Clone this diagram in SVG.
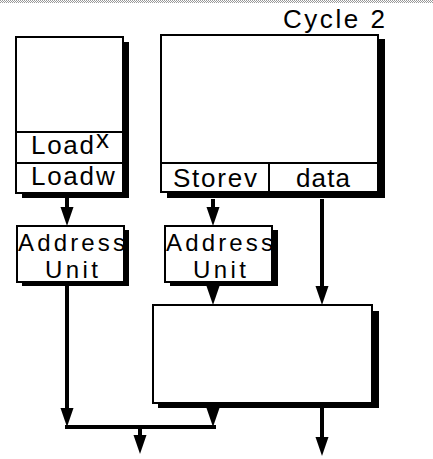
<svg xmlns="http://www.w3.org/2000/svg" width="433" height="459" viewBox="0 0 433 459">
<defs>
<style>
.box{fill:#fff;stroke:#000;stroke-width:2}
.sh{fill:#000}
.t{font-family:"Liberation Sans",Arial,sans-serif;fill:#000;font-size:26px}
.au{font-size:24px}
.c{stroke:#000;stroke-width:4;fill:none}
.ln{stroke:#000;stroke-width:2;fill:none}
</style>
<marker id="ah" markerUnits="userSpaceOnUse" markerWidth="20" markerHeight="14" viewBox="0 0 20 14" refX="9" refY="7" orient="auto">
<path d="M0,0.5 L19,7 L0,13.5 z" fill="#000"/>
</marker>
<pattern id="dots" width="2" height="2" patternUnits="userSpaceOnUse">
<rect width="2" height="2" fill="#fff"/>
<rect width="1" height="1" fill="#999"/>
<rect x="1" y="1" width="1" height="1" fill="#999"/>
</pattern>
</defs>
<rect x="0" y="0" width="433" height="3" fill="url(#dots)"/>
<text class="t" x="283" y="28" textLength="102" lengthAdjust="spacing">Cycle 2</text>

<g id="loadBox">
<rect class="sh" x="22" y="42" width="107" height="156"/>
<rect class="box" x="16" y="37" width="107" height="156"/>
<line class="ln" x1="16" y1="132" x2="123" y2="132"/>
<line class="ln" x1="16" y1="163" x2="123" y2="163"/>
<text class="t" x="31" y="154"><tspan textLength="63" lengthAdjust="spacing">Load</tspan><tspan x="96" y="148">x</tspan></text>
<text class="t" x="31" y="185"><tspan textLength="63" lengthAdjust="spacing">Load</tspan><tspan x="96">w</tspan></text>
</g>

<g id="storeBox">
<rect class="sh" x="167" y="39" width="218" height="159"/>
<rect class="box" x="161" y="35" width="217" height="157"/>
<line class="ln" x1="161" y1="163" x2="378" y2="163"/>
<line class="ln" x1="269" y1="163" x2="269" y2="192"/>
<text class="t" x="173" y="187" textLength="84" lengthAdjust="spacing">Storev</text>
<text class="t" x="296" y="187" textLength="54" lengthAdjust="spacing">data</text>
</g>

<g id="addrUnit1">
<rect class="sh" x="22" y="230" width="107" height="56"/>
<rect class="box" x="17" y="226" width="107" height="56"/>
<text class="t au" x="18" y="251" textLength="107" lengthAdjust="spacing">Address</text>
<text class="t au" x="45" y="278" textLength="53" lengthAdjust="spacing">Unit</text>
</g>

<g id="addrUnit2">
<rect class="sh" x="170" y="230" width="108" height="56"/>
<rect class="box" x="165" y="226" width="107" height="56"/>
<text class="t au" x="166" y="251" textLength="107" lengthAdjust="spacing">Address</text>
<text class="t au" x="193" y="278" textLength="53" lengthAdjust="spacing">Unit</text>
</g>

<g id="bigBox">
<rect class="sh" x="158" y="311" width="221" height="97"/>
<rect class="box" x="153" y="305" width="219" height="98"/>
</g>

<g id="connectors">
<path class="c" d="M67,198 V216" marker-end="url(#ah)"/>
<path class="c" d="M213,199 V216" marker-end="url(#ah)"/>
<path class="c" d="M322,199 V295" marker-end="url(#ah)"/>
<path class="c" d="M213,286 V295" marker-end="url(#ah)"/>
<path class="c" d="M67,285 V417" marker-end="url(#ah)"/>
<path class="c" d="M213,408 V417" marker-end="url(#ah)"/>
<path class="c" d="M65,427 H216"/>
<path class="c" d="M140,427 V444" marker-end="url(#ah)"/>
<path class="c" d="M322,403 V446" marker-end="url(#ah)"/>
</g>
</svg>
